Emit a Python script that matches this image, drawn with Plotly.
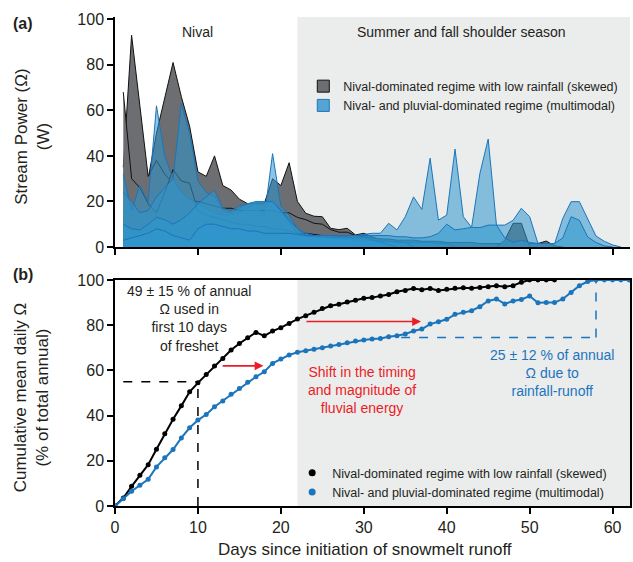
import plotly.graph_objects as go

FONT = "Liberation Sans, Arial, Helvetica, sans-serif"
INK = "#231f20"
GRAY_FILL = "#6d6e71"
BLUE_LINE = "#1b75bc"
BLUE_FILL = "rgba(45,152,205,0.55)"
SHADE = "#ebecec"
RED = "#ed1c24"

# ---- panel (a): daily stream power (W), each list starts at its start day
nival_1_start = 1
nival_1 = [15, 22, 18, 30, 50, 66, 81, 66, 53, 33, 31, 40, 27, 25, 21, 19, 19, 19, 30, 27,
           37, 20, 14.8, 13.5, 13.3, 8.2, 7.6, 8.2, 5.3, 6, 4.5, 3, 2.5, 2, 2, 1.5, 1.5, 1, 1, 0.8, 0]
nival_2_start = 1
nival_2 = [35, 93, 62, 31, 38, 32, 28, 22, 20, 20, 19, 18, 17, 17, 16, 16, 16, 16, 16, 15,
           15, 13, 12, 10.4, 10, 7.6, 6.5, 6.5, 5, 4.5, 4, 3.5, 3, 2.5, 2, 2, 1.5, 1.5, 1, 1, 0]
nival_3_start = 1
nival_3 = [68, 30, 26, 19, 15, 24, 34, 29, 28, 16, 14, 13, 12, 11, 10, 10, 9, 9, 8, 8,
           7, 6, 6, 5.5, 5, 5, 4.5, 4.5, 4, 4, 4, 3.5, 3.5, 3, 3, 3, 2.5, 2.5, 2.5, 2,
           2, 2, 2, 1.5, 1.5, 1.5, 1.5, 1.5, 1.5, 1.5, 1.5, 2.6, 0.5, 0]
nival_4_start = 46
nival_4 = [0, 3, 10.4, 10.4, 0]

pluvial_1_start = 1
pluvial_1 = [32, 16, 27, 20, 62, 40, 30, 24, 21, 19, 17, 15, 14, 14, 15, 17, 19, 13, 41, 18,
             14, 8, 6, 5, 4.5, 4, 4, 3.5, 3.5, 3, 3, 3, 2.5, 2.5, 2, 2, 2, 2, 1.5, 1.5, 0]
pluvial_2_start = 1
pluvial_2 = [24, 20, 15, 16, 22, 26, 30, 63, 50, 29, 24, 22, 16, 15, 17, 19, 19.5, 19.5, 20, 16,
             11, 6, 5, 4.5, 4, 4, 3.5, 3.5, 3, 3, 3, 2.5, 2.5, 2, 2, 0]
pluvial_3_start = 1
pluvial_3 = [10, 8, 7.5, 10, 13, 12, 10, 12, 15, 19, 22, 25, 17, 16, 18, 19, 20, 20, 20, 16,
             12, 8, 5, 4.5, 4.5, 4, 4, 4, 4, 4, 3, 2, 1, 0]
pluvial_4_start = 1
pluvial_4 = [3, 4, 5, 6, 8, 7, 5, 4, 3, 8, 10, 10, 9, 8, 8, 7, 7, 6, 6, 6,
             6, 5.5, 5, 5, 5, 5, 5, 5, 5, 5, 5, 5, 5, 4.5, 4.5, 4, 4, 4.5, 6, 10,
             7.5, 8, 8.6, 8.5, 9.6, 9.6, 4, 2, 3, 2, 1.5, 1.5, 1.5, 4, 13.3, 11.7, 4.4, 2, 0.5, 0]
pluvial_5_start = 20
pluvial_5 = [3, 3.5, 4, 4.5, 5, 5, 5, 5, 5, 5, 5.5, 6, 6, 10.4, 7.5, 13.3, 22, 16.5, 39, 11.8,
             14, 43, 13.3, 8.6, 32.3, 47.4, 9.6, 9.6, 11.7, 17, 13.3, 1.6, 1.5, 1.3, 12.6, 19.9,
             19.9, 12.6, 4.8, 2.5, 0.9, 0]

# ---- panel (b): cumulative mean daily stream power (% of annual)
nival_cum_days = list(range(0, 54))
nival_cum = [0, 3.5, 8.7, 13.6, 18.3, 25.1, 32, 38.4, 44.3, 50.5, 54.5, 58.2, 61.9, 65.3, 69,
             71.9, 74.4, 76.8, 75.3, 77.4, 78.9, 80.8, 82.7, 84.2, 85.7, 87.4, 88.6, 89.3,
             90.3, 91, 91.9, 92.2, 92.9, 93.6, 94.8, 95.4, 96.2, 95.7, 96.2, 95.4, 95.9, 96.3,
             96.6, 96.3, 96.7, 97, 97.5, 97, 97.5, 99, 100, 100, 100, 100]
pluvial_cum_days = list(range(0, 63))
pluvial_cum = [0, 3.2, 6.5, 9.2, 11.8, 17.3, 21.3, 25, 30.1, 34.6, 38, 40.5, 43.9, 46.5, 49.4,
               52, 54.7, 57.2, 59.4, 63.1, 65, 66.8, 68, 68.7, 69.3, 70, 70.8, 71.5, 72.2, 73,
               73.4, 73.9, 74.1, 74.9, 75.3, 76.1, 77.4, 78.3, 80.5, 81.5, 82.6, 84.8, 85.7,
               86.4, 88.2, 90.7, 91.6, 89.4, 90.7, 91.4, 92.9, 89.9, 90, 90, 91.6, 94.5, 97.5,
               99.3, 100, 100, 100, 100, 100]

season_start = 22
x_max = 62.1
freshet_day, freshet_pct = 10, 55
rain_start, rain_end, rain_pct = 34.5, 58, 74.5

legend_a = ["Nival-dominated regime with low rainfall (skewed)",
            "Nival- and pluvial-dominated regime (multimodal)"]

fig = go.Figure()


def area(start, vals, line, fill, width):
    fig.add_trace(go.Scatter(x=list(range(start, start + len(vals))), y=vals, mode="lines",
                             fill="tozeroy", fillcolor=fill, line=dict(color=line, width=width),
                             showlegend=False, hoverinfo="skip", xaxis="x", yaxis="y"))


for s, v in [(nival_1_start, nival_1), (nival_2_start, nival_2),
             (nival_3_start, nival_3), (nival_4_start, nival_4)]:
    area(s, v, "#111111", GRAY_FILL, 1)
for s, v in [(pluvial_5_start, pluvial_5), (pluvial_1_start, pluvial_1),
             (pluvial_2_start, pluvial_2), (pluvial_3_start, pluvial_3),
             (pluvial_4_start, pluvial_4)]:
    area(s, v, BLUE_LINE, BLUE_FILL, 1)

# legend swatches for panel (a)
fig.add_trace(go.Scatter(x=[None], y=[None], mode="markers", name=legend_a[0],
                         marker=dict(symbol="square", size=12, color=GRAY_FILL,
                                     line=dict(color="#111111", width=1)),
                         xaxis="x", yaxis="y", legend="legend"))
fig.add_trace(go.Scatter(x=[None], y=[None], mode="markers", name=legend_a[1],
                         marker=dict(symbol="square", size=12, color="rgb(85,165,210)",
                                     line=dict(color=BLUE_LINE, width=1)),
                         xaxis="x", yaxis="y", legend="legend"))

# panel (b) curves
fig.add_trace(go.Scatter(x=nival_cum_days, y=nival_cum, mode="lines+markers",
                         line=dict(color="black", width=2), marker=dict(size=5, color="black"),
                         showlegend=False, xaxis="x2", yaxis="y2"))
fig.add_trace(go.Scatter(x=pluvial_cum_days, y=pluvial_cum, mode="lines+markers",
                         line=dict(color=BLUE_LINE, width=2), marker=dict(size=5, color=BLUE_LINE),
                         showlegend=False, xaxis="x2", yaxis="y2"))
fig.add_trace(go.Scatter(x=[None], y=[None], mode="markers", name=legend_a[0],
                         marker=dict(size=7, color="black"), xaxis="x2", yaxis="y2",
                         legend="legend2"))
fig.add_trace(go.Scatter(x=[None], y=[None], mode="markers", name=legend_a[1],
                         marker=dict(size=7, color=BLUE_LINE), xaxis="x2", yaxis="y2",
                         legend="legend2"))

# shaded summer/fall season
for xr, yr in [("x", "y domain"), ("x2", "y2 domain")]:
    fig.add_shape(type="rect", xref=xr, yref=yr, x0=season_start, x1=x_max, y0=0, y1=1,
                  fillcolor=SHADE, line_width=0, layer="below")

# dashed guides
dash = dict(width=1.5, dash="dash")
fig.add_shape(type="line", xref="x2", yref="y2", x0=1, x1=freshet_day, y0=freshet_pct,
              y1=freshet_pct, line=dict(color="black", **dash))
fig.add_shape(type="line", xref="x2", yref="y2", x0=freshet_day, x1=freshet_day, y0=0,
              y1=freshet_pct, line=dict(color="black", **dash))
fig.add_shape(type="line", xref="x2", yref="y2", x0=rain_start, x1=rain_end, y0=rain_pct,
              y1=rain_pct, line=dict(color=BLUE_LINE, **dash))
fig.add_shape(type="line", xref="x2", yref="y2", x0=rain_end, x1=rain_end, y0=rain_pct,
              y1=100, line=dict(color=BLUE_LINE, **dash))

# red arrows
for x0, x1, yv in [(12.8, 17.9, 62), (22.9, 36.9, 81.6)]:
    fig.add_annotation(x=x1, y=yv, ax=x0, ay=yv, xref="x2", yref="y2", axref="x2", ayref="y2",
                       showarrow=True, arrowhead=2, arrowsize=1.1, arrowwidth=1.6,
                       arrowcolor=RED, text="")

txt = dict(family=FONT, size=14, color=INK)
mid = dict(showarrow=False, xanchor="center", yanchor="middle")
fig.add_annotation(x=8.9, y=83, xref="x2", yref="y2",
                   text="49 ± 15 % of annual<br>Ω used in<br>first 10 days<br>of freshet",
                   font=txt, align="center", **mid)
fig.add_annotation(x=29.8, y=51.2, xref="x2", yref="y2",
                   text="Shift in the timing<br>and magnitude of<br>fluvial energy",
                   font=dict(family=FONT, size=14, color=RED), align="center", **mid)
fig.add_annotation(x=52.7, y=58.8, xref="x2", yref="y2",
                   text="25 ± 12 % of annual<br>Ω due to<br>rainfall-runoff",
                   font=dict(family=FONT, size=14, color=BLUE_LINE), align="center", **mid)
fig.add_annotation(x=10, y=94.5, xref="x", yref="y", text="Nival", font=txt, **mid)
fig.add_annotation(x=41.8, y=94.5, xref="x", yref="y",
                   text="Summer and fall shoulder season", font=txt, **mid)

# panel labels and axis titles
title_font = dict(family=FONT, size=17, color=INK)
fig.add_annotation(x=-0.179, y=0.987, xref="paper", yref="paper",
                   text="<b>(a)</b>", font=dict(family=FONT, size=16, color=INK), **mid)
fig.add_annotation(x=-0.179, y=0.4744, xref="paper", yref="paper",
                   text="<b>(b)</b>", font=dict(family=FONT, size=16, color=INK), **mid)
fig.add_annotation(x=-0.1615, y=0.7546, xref="paper", yref="paper",
                   text="Stream Power (Ω)<br>(W)", textangle=-90, font=title_font, **mid)
fig.add_annotation(x=-0.1615, y=0.222, xref="paper", yref="paper",
                   text="Cumulative mean daily Ω<br>(% of total annual)", textangle=-90,
                   font=title_font, **mid)
fig.add_annotation(x=0.4855, y=-0.088, xref="paper", yref="paper",
                   text="Days since initiation of snowmelt runoff", font=title_font, **mid)

tick_font = dict(family=FONT, size=16, color=INK)
axis_common = dict(showline=True, linecolor="black", linewidth=1.5, ticks="outside",
                   ticklen=6, tickwidth=1.5, tickcolor="black", showgrid=False,
                   zeroline=False, tickfont=tick_font)

fig.update_layout(
    width=633, height=562,
    margin=dict(l=115, r=1, t=17, b=56),
    paper_bgcolor="white", plot_bgcolor="white",
    font=dict(family=FONT, color=INK),
    xaxis=dict(domain=[0, 1], range=[0, x_max], tickvals=[0, 10, 20, 30, 40, 50, 60],
               showticklabels=False, anchor="y", **axis_common),
    yaxis=dict(domain=[0.5297, 1], range=[0, 101], tickvals=[0, 20, 40, 60, 80, 100],
               anchor="x", **axis_common),
    xaxis2=dict(domain=[0, 1], range=[0, x_max], tickvals=[0, 10, 20, 30, 40, 50, 60],
                anchor="y2", mirror=True, **axis_common),
    yaxis2=dict(domain=[0, 0.4622], range=[0, 100], tickvals=[0, 20, 40, 60, 80, 100],
                anchor="x2", mirror=True, **axis_common),
    legend=dict(x=0.3656, y=0.8885, xanchor="left", yanchor="top", bgcolor="rgba(0,0,0,0)",
                font=dict(family=FONT, size=12.5, color=INK), itemwidth=30, tracegroupgap=0),
    legend2=dict(x=0.344, y=0.098, xanchor="left", yanchor="top", bgcolor="rgba(0,0,0,0)",
                 font=dict(family=FONT, size=12.5, color=INK), itemwidth=30, tracegroupgap=0),
)

fig.write_html("out.html", config={"displayModeBar": False},
               post_script="document.body.style.margin='0';")
